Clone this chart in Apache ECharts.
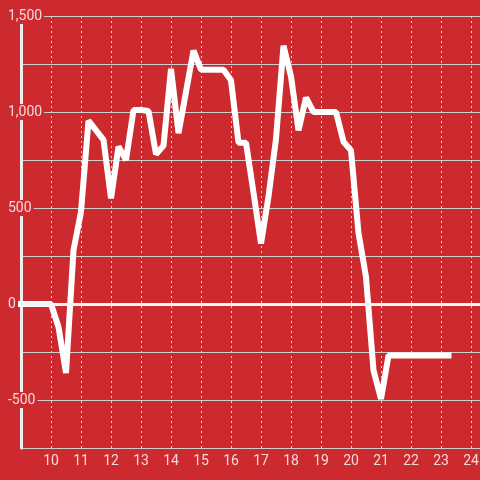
<!DOCTYPE html>
<html>
<head>
<meta charset="utf-8">
<style>html,body{margin:0;padding:0;background:#cc2a2f;}#c{width:480px;height:480px;}</style>
<script src="https://cdn.jsdelivr.net/npm/echarts@6/dist/echarts.min.js"></script>
</head>
<body>
<div id="c"></div>
<script>
var hours = [9,9.25,9.5,9.75,10,10.25,10.5,10.75,11,11.25,11.5,11.75,12,12.25,12.5,12.75,13,13.25,13.5,13.75,14,14.25,14.5,14.75,15,15.25,15.5,15.75,16,16.25,16.5,16.75,17,17.25,17.5,17.75,18,18.25,18.5,18.75,19,19.25,19.5,19.75,20,20.25,20.5,20.75,21,21.25,21.5,21.75,22,22.25,22.5,22.75,23,23.25];
var values = [0,0,0,0,0,-120,-360,280,480,955,905,855,550,820,750,1010,1010,1005,780,825,1225,890,1105,1320,1220,1220,1220,1220,1165,840,840,580,315,560,860,1345,1185,905,1075,1000,1000,1000,1000,845,800,370,140,-345,-495,-268,-268,-268,-268,-268,-268,-268,-268,-268];
var yTickLabels = [-500, 0, 500, 1000, 1500];
var xTickLabels = [10,11,12,13,14,15,16,17,18,19,20,21,22,23,24];

var RED = '#cc2a2f';
var data = hours.map(function(h, i){ return [h, values[i]]; });
function fmtNum(v){ var s = String(Math.abs(v)).replace(/\B(?=(\d{3})+(?!\d))/g, ','); return (v < 0 ? '-' : '') + s; }

var chart = echarts.init(document.getElementById('c'), null, {renderer:'canvas'});
chart.setOption({
  backgroundColor: RED,
  animation: false,
  grid: {left: 21, right: 0, top: 16, bottom: 32, containLabel: false, outerBoundsMode: 'none'},
  xAxis: {
    type: 'value', min: 9, max: 24.3, interval: 1,
    axisLine: {show: false}, axisTick: {show: false},
    splitLine: {show: true, lineStyle: {color: '#d8d8d8', width: 1, type: [2, 3]}},
    axisLabel: {
      color: '#f2dada', fontSize: 14, fontFamily: 'Roboto', margin: 6,
      formatter: function(v){ return xTickLabels.indexOf(v) >= 0 ? String(v) : ''; }
    }
  },
  yAxis: {
    type: 'value', min: -750, max: 1500, interval: 250,
    axisLine: {show: true, lineStyle: {color: '#f0f0f0', width: 3}},
    axisTick: {show: false},
    splitLine: {show: true, lineStyle: {color: '#cfcfcf', width: 1}},
    axisLabel: {
      color: '#f2dada', fontSize: 14, fontFamily: 'Roboto', margin: 15, align: 'left',
      backgroundColor: RED, padding: [1, 2], lineHeight: 14,
      formatter: function(v){ return yTickLabels.indexOf(v) >= 0 ? fmtNum(v) : ''; }
    }
  },
  series: [{
    type: 'line', data: data, showSymbol: false, symbol: 'none',
    lineStyle: {color: '#ffffff', width: 6, cap: 'square', join: 'bevel'},
    clip: false,
    markLine: {
      silent: true, symbol: 'none', label: {show: false},
      lineStyle: {color: '#f4f4f4', width: 3, type: 'solid'},
      data: [{yAxis: 0}]
    }
  }]
});
</script>
</body>
</html>
